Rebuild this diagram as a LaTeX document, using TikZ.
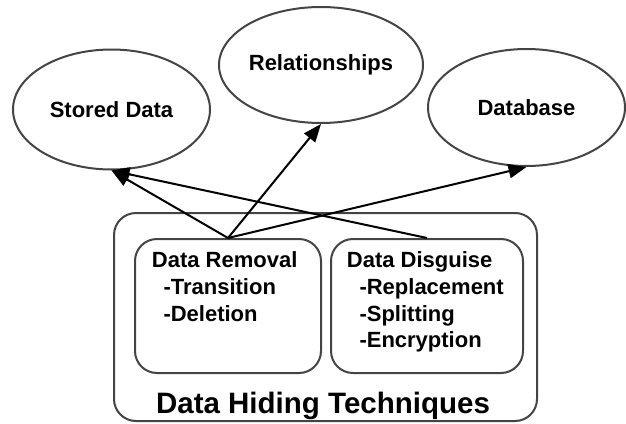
\documentclass[tikz,border=0pt]{standalone}
\usepackage{fontspec}
\setmainfont{Liberation Sans}
\usetikzlibrary{shapes.geometric,arrows.meta}
\definecolor{bord}{RGB}{68,68,68}
\begin{document}
\begin{tikzpicture}[x=1pt,y=-1pt,
  oval/.style={ellipse,draw=bord,line width=2pt,inner sep=0pt,font=\bfseries\fontsize{22}{26}\selectfont},
  rbox/.style={draw=bord,line width=2pt,rounded corners=22pt,inner sep=0pt},
  arr/.style={line width=2pt,-{Triangle[length=18pt,width=14pt]}},
  txt/.style={align=left,anchor=north west,inner sep=0pt,font=\bfseries\fontsize{22}{26.7}\selectfont}]
\useasboundingbox (0,0) rectangle (626,423);
% ellipses
\node[oval,minimum width=197pt,minimum height=120pt] (stored) at (111.5,109.5) {Stored Data};
\node[oval,minimum width=202pt,minimum height=116pt] (rel) at (321,65) {Relationships};
\node[oval,minimum width=197pt,minimum height=117pt] (db) at (526.5,107.5) {Database};
% boxes
\node[rbox,minimum width=423pt,minimum height=208pt] (outer) at (325.5,317) {};
\node[rbox,minimum width=186pt,minimum height=134pt] (removal) at (228,306) {};
\node[rbox,minimum width=192pt,minimum height=134pt] (disguise) at (427,306) {};
% texts
\node[txt] (remtxt) at (151.7,251.7) {Data Removal\\\hspace*{11.6pt}-Transition\\\hspace*{11.6pt}-Deletion};
\node[txt] (distxt) at (346.7,251.7) {Data Disguise\\\hspace*{12.6pt}-Replacement\\\hspace*{12.6pt}-Splitting\\\hspace*{12.6pt}-Encryption};
\node[anchor=base,inner sep=0pt,font=\bfseries\fontsize{29.5}{34}\selectfont] (title) at (323,413.3) {Data Hiding Techniques};
% arrows
\draw[arr] (removal.north) -- (stored.south);
\draw[arr] (removal.north) -- (rel.south);
\draw[arr] (removal.north) -- (db.south);
\draw[arr] (disguise.north) -- (stored.south);
\end{tikzpicture}
\end{document}
